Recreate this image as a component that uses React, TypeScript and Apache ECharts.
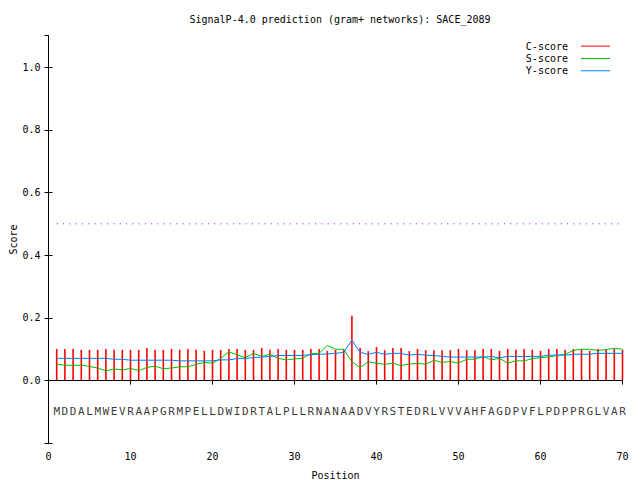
import React, { useEffect, useRef } from 'react'
import * as echarts from 'echarts'

// SignalP-4.0 output for SACE_2089, first 70 residues
const sequence = 'MDDALMWEVRAAPGRMPELLDWIDRTALPLLRNANAADVYRSTEDRLVVVAHFAGDPVFLPDPPRGLVAR'

const cScore = [
    0.101, 0.101, 0.101, 0.098, 0.098, 0.098, 0.101, 0.098, 0.098, 0.098,
    0.098, 0.104, 0.098, 0.098, 0.101, 0.098, 0.101, 0.098, 0.095, 0.098,
    0.098, 0.101, 0.101, 0.098, 0.098, 0.104, 0.098, 0.101, 0.098, 0.098,
    0.098, 0.101, 0.101, 0.095, 0.098, 0.100, 0.207, 0.104, 0.094, 0.107,
    0.097, 0.104, 0.104, 0.094, 0.101, 0.097, 0.097, 0.097, 0.097, 0.101,
    0.097, 0.097, 0.101, 0.101, 0.095, 0.101, 0.098, 0.101, 0.098, 0.095,
    0.101, 0.101, 0.098, 0.101, 0.101, 0.095, 0.101, 0.101, 0.101, 0.098,
]

const sScore = [
    0.052, 0.049, 0.049, 0.049, 0.045, 0.040, 0.031, 0.037, 0.034, 0.039,
    0.032, 0.042, 0.046, 0.038, 0.040, 0.044, 0.044, 0.052, 0.058, 0.055,
    0.071, 0.092, 0.082, 0.073, 0.087, 0.077, 0.084, 0.071, 0.066, 0.069,
    0.071, 0.086, 0.087, 0.112, 0.100, 0.100, 0.060, 0.042, 0.060, 0.055,
    0.052, 0.055, 0.048, 0.053, 0.055, 0.052, 0.065, 0.058, 0.061, 0.056,
    0.068, 0.068, 0.077, 0.066, 0.071, 0.056, 0.063, 0.063, 0.070, 0.073,
    0.075, 0.080, 0.084, 0.096, 0.100, 0.100, 0.096, 0.099, 0.103, 0.100,
]

const yScore = [
    0.071, 0.071, 0.071, 0.071, 0.071, 0.071, 0.071, 0.068, 0.068, 0.065,
    0.065, 0.065, 0.065, 0.065, 0.065, 0.063, 0.063, 0.063, 0.063, 0.063,
    0.066, 0.066, 0.070, 0.071, 0.073, 0.075, 0.077, 0.080, 0.080, 0.080,
    0.080, 0.083, 0.084, 0.085, 0.087, 0.090, 0.129, 0.090, 0.084, 0.090,
    0.084, 0.087, 0.087, 0.081, 0.084, 0.081, 0.080, 0.077, 0.075, 0.075,
    0.075, 0.075, 0.075, 0.077, 0.073, 0.077, 0.077, 0.077, 0.077, 0.077,
    0.081, 0.081, 0.081, 0.084, 0.084, 0.084, 0.087, 0.087, 0.087, 0.087,
]

const threshold = 0.5
const letterRow = -0.1

const FONT = "'DejaVu Sans Mono', monospace"

const App = () => {
    const chartRef = useRef<HTMLDivElement>(null)

    useEffect(() => {
        if (!chartRef.current) return
        const chart = echarts.init(chartRef.current, null, { renderer: 'svg' })

        const positions = sequence.split('').map((_, i) => i + 1)
        const pair = (arr: number[]) => arr.map((v, i) => [positions[i], v])

        const xBase = {
            type: 'value',
            min: 0,
            max: 70,
            interval: 10,
            splitLine: { show: false },
            axisLine: { show: true, lineStyle: { color: '#000', width: 1 } },
            axisTick: { show: true, inside: true, length: 4, lineStyle: { color: '#000' } },
        }
        const yBase = {
            type: 'value',
            min: -0.2,
            max: 1.1,
            interval: 0.2,
            splitLine: { show: false },
            axisLine: { show: true, lineStyle: { color: '#000', width: 1 } },
            axisTick: { show: true, inside: true, length: 4, lineStyle: { color: '#000' } },
        }

        const option = {
            animation: false,
            backgroundColor: '#fff',
            title: {
                text: 'SignalP-4.0 prediction (gram+ networks): SACE_2089',
                left: 335,
                textAlign: 'center',
                top: 9,
                textStyle: { fontFamily: FONT, fontSize: 10, fontWeight: 'normal', color: '#000' },
            },
            legend: {
                orient: 'vertical',
                align: 'right',
                right: 25,
                top: 35,
                itemWidth: 29,
                itemHeight: 1,
                itemGap: 0,
                icon: 'rect',
                data: ['C-score', 'S-score', 'Y-score'],
                textStyle: {
                    fontFamily: FONT,
                    fontSize: 10,
                    color: '#000',
                    lineHeight: 12.3,
                    padding: [0, 8, 0, 0],
                },
            },
            grid: {
                left: 48.5,
                right: 17.5,
                top: 35.7,
                bottom: 36.7,
                containLabel: false,
                outerBoundsMode: 'none',
            },
            xAxis: [
                {
                    ...xBase,
                    position: 'bottom',
                    name: 'Position',
                    nameLocation: 'middle',
                    nameGap: 27,
                    nameMoveOverlap: false,
                    nameTextStyle: { fontFamily: FONT, fontSize: 10, color: '#000' },
                    axisLabel: { fontFamily: FONT, fontSize: 10, color: '#000', margin: 8 },
                },
                {
                    ...xBase,
                    position: 'top',
                    z: 10,
                    axisLabel: { show: false },
                },
            ],
            yAxis: [
                {
                    ...yBase,
                    position: 'left',
                    name: 'Score',
                    nameLocation: 'middle',
                    nameRotate: 90,
                    nameGap: 30,
                    nameMoveOverlap: false,
                    nameTextStyle: { fontFamily: FONT, fontSize: 10, color: '#000' },
                    axisLabel: {
                        fontFamily: FONT,
                        fontSize: 10,
                        color: '#000',
                        margin: 8,
                        showMaxLabel: false,
                        formatter: (v: number) => (v < -0.01 || v > 1.01 ? '' : v.toFixed(1)),
                    },
                },
                {
                    ...yBase,
                    position: 'right',
                    z: 10,
                    axisLabel: { show: false },
                },
            ],
            series: [
                {
                    name: 'C-score',
                    type: 'bar',
                    data: pair(cScore),
                    barWidth: 1.6,
                    itemStyle: { color: '#ff0000' },
                    xAxisIndex: 0,
                    yAxisIndex: 0,
                },
                {
                    name: 'S-score',
                    type: 'line',
                    data: pair(sScore),
                    showSymbol: false,
                    symbol: 'none',
                    lineStyle: { color: '#00c000', width: 1 },
                    itemStyle: { color: '#00c000' },
                },
                {
                    name: 'Y-score',
                    type: 'line',
                    data: pair(yScore),
                    showSymbol: false,
                    symbol: 'none',
                    lineStyle: { color: '#0080ff', width: 1 },
                    itemStyle: { color: '#0080ff' },
                },
                {
                    name: 'threshold',
                    type: 'line',
                    data: [
                        [positions[0], threshold],
                        [positions[positions.length - 1], threshold],
                    ],
                    symbol: 'none',
                    lineStyle: { color: '#a000f0', width: 1, type: [1, 5.3] },
                },
                {
                    name: 'sequence',
                    type: 'scatter',
                    data: sequence.split('').map((aa, i) => [positions[i], letterRow, aa]),
                    symbolSize: 1,
                    itemStyle: { color: 'rgba(0,0,0,0)' },
                    label: {
                        show: true,
                        position: 'inside',
                        formatter: (p: any) => p.value[2],
                        fontFamily: FONT,
                        fontSize: 11,
                        color: '#000',
                    },
                },
            ],
        }

        try {
            chart.setOption(option as any)
        } catch (err) {
            console.error('Error setting chart options:', err)
        }

        return () => {
            chart.dispose()
        }
    }, [])

    return (
        <div
            ref={chartRef}
            style={{ position: 'fixed', left: 0, top: 0, width: '640px', height: '480px', background: '#fff' }}
        />
    )
}

export default App
